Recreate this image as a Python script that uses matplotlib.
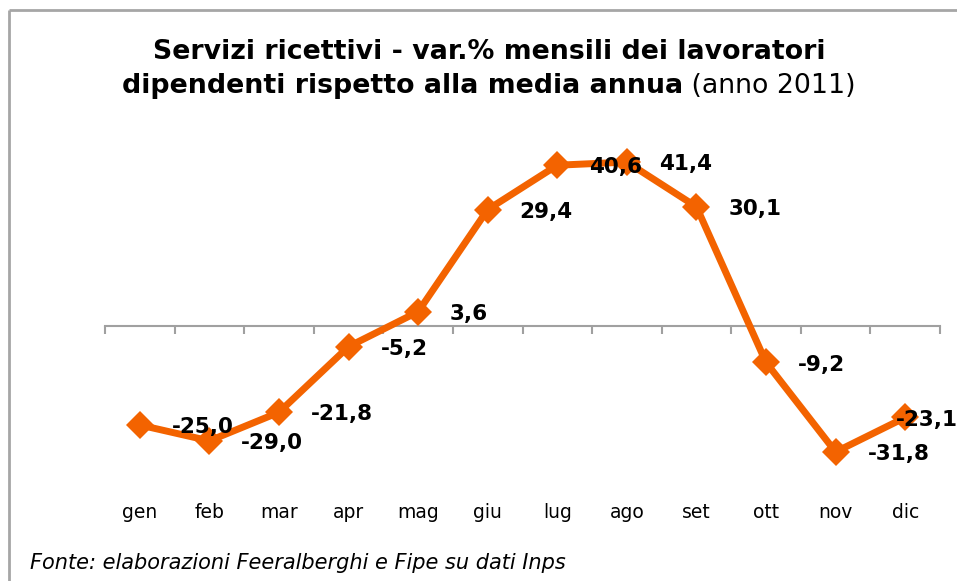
import matplotlib
matplotlib.use('Agg')
import matplotlib.pyplot as plt
import matplotlib.transforms as mtransforms
from matplotlib.lines import Line2D

months = ['gen', 'feb', 'mar', 'apr', 'mag', 'giu', 'lug', 'ago', 'set', 'ott', 'nov', 'dic']
values = [-25.0, -29.0, -21.8, -5.2, 3.6, 29.4, 40.6, 41.4, 30.1, -9.2, -31.8, -23.1]
labels = ['-25,0', '-29,0', '-21,8', '-5,2', '3,6', '29,4', '40,6', '41,4', '30,1', '-9,2', '-31,8', '-23,1']

W, H = 957, 581
fig = plt.figure(figsize=(W / 100, H / 100), dpi=100)
fig.patch.set_facecolor('white')

# plot area in pixels: x 105..940, y 140..480 (top..bottom)
ax = fig.add_axes([105 / W, 1 - 480 / H, (940 - 105) / W, (480 - 140) / H])
ax.set_xlim(-0.5, 11.5)
ax.set_ylim(-(480 - 326) / 3.96, (326 - 140) / 3.96)
ax.set_facecolor('none')

orange = '#F36300'
x = list(range(len(months)))
ax.plot(x, values, color=orange, lw=5, marker='D', markersize=14.5,
        markeredgewidth=0, zorder=3, clip_on=False)

for i, (v, lab) in enumerate(zip(values, labels)):
    dx = -7 if i == len(values) - 1 else 23
    ax.annotate(lab, (i, v), xytext=(dx, -1.5), textcoords='offset points',
                ha='left', va='center', fontsize=15.5, fontweight='bold',
                color='black', zorder=4, annotation_clip=False)

# axis at zero
for s in ['top', 'right', 'left']:
    ax.spines[s].set_visible(False)
ax.spines['bottom'].set_position(('data', 0))
ax.spines['bottom'].set_color('#A0A0A0')
ax.spines['bottom'].set_linewidth(1.5)
ax.set_xticks([i - 0.5 for i in range(13)])
ax.set_xticklabels([])
ax.tick_params(axis='x', direction='out', length=6, width=1.5, color='#A0A0A0')
ax.set_yticks([])

trans = mtransforms.blended_transform_factory(ax.transData, fig.transFigure)
for i, m in enumerate(months):
    ax.text(i, 1 - 513 / H, m, transform=trans, ha='center', va='center',
            fontsize=13.5, color='black')

# title: bold part + regular part
tsize = 19.3
t1 = fig.text(489 / W, 1 - 52 / H, 'Servizi ricettivi - var.% mensili dei lavoratori',
              ha='center', va='center', fontsize=tsize, fontweight='bold')
t2a = fig.text(0, 1 - 93 / H, 'dipendenti rispetto alla media annua',
               ha='left', va='baseline', fontsize=tsize, fontweight='bold')
t2b = fig.text(0, 1 - 93 / H, ' (anno 2011)', ha='left', va='baseline', fontsize=tsize)
fig.canvas.draw()
r = fig.canvas.get_renderer()
wa = t2a.get_window_extent(r).width
wb = t2b.get_window_extent(r).width
x0 = (489 - (wa + wb) / 2) / W
t2a.set_x(x0)
t2b.set_x(x0 + wa / W)

fig.text(30 / W, 1 - 563 / H, 'Fonte: elaborazioni Feeralberghi e Fipe su dati Inps',
         ha='left', va='center', fontsize=15, style='italic')

# outer border (left and top)
bc = '#A6A6A6'
fig.add_artist(Line2D([9 / W, 9 / W], [0, 1 - 10 / H], transform=fig.transFigure,
                      color=bc, lw=2, solid_capstyle='butt'))
fig.add_artist(Line2D([9 / W, 1], [1 - 10 / H, 1 - 10 / H], transform=fig.transFigure,
                      color=bc, lw=2, solid_capstyle='butt'))

fig.savefig('out.png', dpi=100)
